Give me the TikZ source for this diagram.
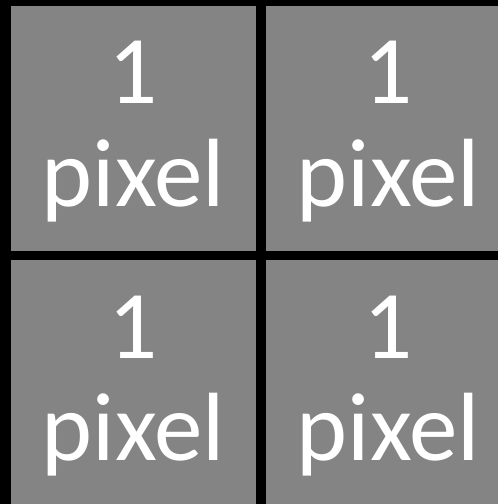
\documentclass[tikz,border=0pt]{standalone}
\usepackage{fontspec}
\setmainfont{Carlito}
\definecolor{cellgray}{RGB}{132,132,132}
\begin{document}
\begin{tikzpicture}[x=1bp,y=-1bp,
  cell/.style={fill=cellgray,draw=none,anchor=north west,inner sep=0pt,minimum width=245bp,minimum height=245bp},
  lbl/.style={text=white,anchor=base,inner sep=0pt,font=\fontsize{97bp}{102bp}\selectfont}]
\fill[black] (0,0) rectangle (498,504);
\useasboundingbox (0,0) rectangle (498,504);
\clip (0,0) rectangle (498,504);
\node[cell] (c11) at (11,6) {};
\node[cell] (c12) at (266,6) {};
\node[cell] (c21) at (11,260) {};
\node[cell] (c22) at (266,260) {};
\foreach \n/\cx/\by in {a/133.5/0, b/388.5/0, c/133.5/254, d/388.5/254}{
  \node[lbl] (one\n) at (\cx,104+\by) {1};
  \node[lbl] (pix\n) at (\cx,206+\by) {pixel};
}
\end{tikzpicture}
\end{document}
